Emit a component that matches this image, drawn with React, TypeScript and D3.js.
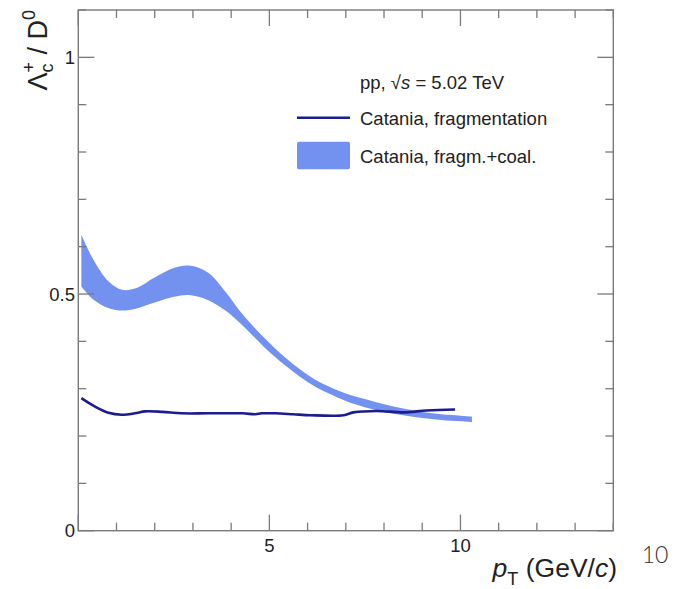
import React from "react";
import * as d3 from "d3";

// ---- data ----
const bandX = [0.08, 0.4, 0.8, 1.15, 1.5, 2.0, 2.5, 2.9, 3.4, 3.85, 4.25, 4.6, 4.95, 5.4, 5.8, 6.2, 6.6, 7.0, 7.5, 8.0, 8.5, 9.0, 9.5, 10.0, 10.3];
const bandUpper = [0.625, 0.572, 0.526, 0.509, 0.512, 0.535, 0.555, 0.56, 0.545, 0.505, 0.462, 0.43, 0.401, 0.367, 0.341, 0.319, 0.303, 0.29, 0.278, 0.267, 0.258, 0.251, 0.246, 0.243, 0.241];
const bandLower = [0.516, 0.488, 0.47, 0.465, 0.469, 0.482, 0.494, 0.498, 0.487, 0.465, 0.437, 0.409, 0.381, 0.35, 0.325, 0.304, 0.288, 0.274, 0.261, 0.251, 0.244, 0.238, 0.234, 0.231, 0.229];

const lineX = [0.08, 0.44, 0.79, 1.14, 1.48, 1.75, 2.2, 2.7, 3.4, 4.3, 4.63, 4.8, 5.15, 5.63, 6.07, 6.94, 7.2, 7.81, 8.51, 9.12, 9.86];
const lineY = [0.28, 0.262, 0.249, 0.245, 0.248, 0.252, 0.251, 0.248, 0.248, 0.248, 0.246, 0.248, 0.248, 0.246, 0.244, 0.244, 0.25, 0.253, 0.25, 0.254, 0.256];

const xMajorTicks = [5, 10];
const xTickLabels = ["5", "10"];
const yMajorTicks = [0, 0.5, 1];
const yTickLabels = ["0", "0.5", "1"];

const legendHeader = "pp, ";
const legendLine = "Catania, fragmentation";
const legendBand = "Catania, fragm.+coal.";

const W = 679;
const H = 589;
const FONT = "'Liberation Sans', Arial, Helvetica, sans-serif";
const AXIS_COLOR = "#7a7a7a";
const BAND_COLOR = "#7391ee";
const LINE_COLOR = "#1c1c8c";

export default function App() {
  const left = 78.3, right = 613.3, top = 10, bottom = 530.7;
  const x = d3.scaleLinear().domain([0, 14]).range([left, right]);
  const y = d3.scaleLinear().domain([0, 1.1]).range([bottom, top]);

  const bandData = bandX.map((v, i) => ({ x: v, lo: bandLower[i], hi: bandUpper[i] }));
  const area = d3
    .area<{ x: number; lo: number; hi: number }>()
    .x((d) => x(d.x))
    .y0((d) => y(d.lo))
    .y1((d) => y(d.hi))
    .curve(d3.curveCatmullRom.alpha(0.5));

  const lineData = lineX.map((v, i) => [v, lineY[i]] as [number, number]);
  const line = d3
    .line<[number, number]>()
    .x((d) => x(d[0]))
    .y((d) => y(d[1]))
    .curve(d3.curveCatmullRom.alpha(0.5));

  const xMinor = d3.range(0, 14.001, 1);
  const yMinor = d3.range(0, 1.1001, 0.1).map((v) => Math.round(v * 10) / 10);
  const isMajorX = (v: number) => Math.abs(v % 5) < 1e-6;
  const isMajorY = (v: number) => Math.abs((v * 10) % 5) < 1e-6;

  return (
    <svg
      width={W}
      height={H}
      style={{ position: "absolute", left: 0, top: 0, background: "#fff" }}
      fontFamily={FONT}
    >
      <rect x={0} y={0} width={W} height={H} fill="#fff" />
      {/* band */}
      <path d={area(bandData) || ""} fill={BAND_COLOR} stroke="none" />
      {/* line */}
      <path d={line(lineData) || ""} fill="none" stroke={LINE_COLOR} strokeWidth={2.6} />

      {/* frame */}
      <rect x={left} y={top} width={right - left} height={bottom - top} fill="none" stroke={AXIS_COLOR} strokeWidth={1.4} />

      {/* x ticks bottom & top */}
      {xMinor.map((v) => {
        const len = isMajorX(v) ? 16 : 8;
        return (
          <g key={"xt" + v}>
            <line x1={x(v)} x2={x(v)} y1={bottom} y2={bottom - len} stroke={AXIS_COLOR} strokeWidth={1.3} />
            <line x1={x(v)} x2={x(v)} y1={top} y2={top + len} stroke={AXIS_COLOR} strokeWidth={1.3} />
          </g>
        );
      })}
      {/* y ticks left & right */}
      {yMinor.map((v) => {
        const len = isMajorY(v) ? 16 : 8;
        return (
          <g key={"yt" + v}>
            <line x1={left} x2={left + len} y1={y(v)} y2={y(v)} stroke={AXIS_COLOR} strokeWidth={1.3} />
            <line x1={right} x2={right - len} y1={y(v)} y2={y(v)} stroke={AXIS_COLOR} strokeWidth={1.3} />
          </g>
        );
      })}

      {/* x tick labels */}
      {xMajorTicks.map((v, i) => (
        <text key={"xl" + v} x={x(v)} y={551.5} textAnchor="middle" fontSize={18.5} fill="#222">
          {xTickLabels[i]}
        </text>
      ))}
      {/* y tick labels */}
      {yMajorTicks.map((v, i) => (
        <text key={"yl" + v} x={75} y={y(v) + 6.5} textAnchor="end" fontSize={18.5} fill="#222">
          {yTickLabels[i]}
        </text>
      ))}

      {/* x axis title */}
      <text x={617} y={577} textAnchor="end" fontSize={26.5} fill="#222">
        <tspan fontStyle="italic">p</tspan>
        <tspan fontSize={18} dy={8}>T</tspan>
        <tspan dy={-8}> (GeV/</tspan>
        <tspan fontStyle="italic">c</tspan>
        <tspan>)</tspan>
      </text>

      {/* y axis title */}
      <text transform="translate(47,10) rotate(-90)" textAnchor="end" fontSize={27} fill="#222">
        <tspan>Λ</tspan>
        <tspan fontSize={18} dy={6}>c</tspan>
        <tspan fontSize={18} dx={-9} dy={-18}>+</tspan>
        <tspan dy={12}> / D</tspan>
        <tspan fontSize={18} dy={-12}>0</tspan>
      </text>

      {/* legend */}
      <text x={360} y={89} fontSize={18.5} fill="#222">
        <tspan>{legendHeader}</tspan>
        <tspan>√</tspan>
        <tspan fontStyle="italic">s</tspan>
        <tspan> = 5.02 TeV</tspan>
      </text>
      <line x1={297} x2={350} y1={117.7} y2={117.7} stroke={LINE_COLOR} strokeWidth={2.6} />
      <text x={360} y={124.5} fontSize={18.5} fill="#222">{legendLine}</text>
      <rect x={297} y={141.7} width={53} height={27.6} rx={2} fill={BAND_COLOR} />
      <text x={360} y={162.5} fontSize={18.5} fill="#222">{legendBand}</text>

      {/* stray page number */}
      <text x={655} y={563} textAnchor="middle" fontSize={23} fontWeight={300} fontFamily="Lato, 'Open Sans', sans-serif" fill="#333">10</text>
    </svg>
  );
}
